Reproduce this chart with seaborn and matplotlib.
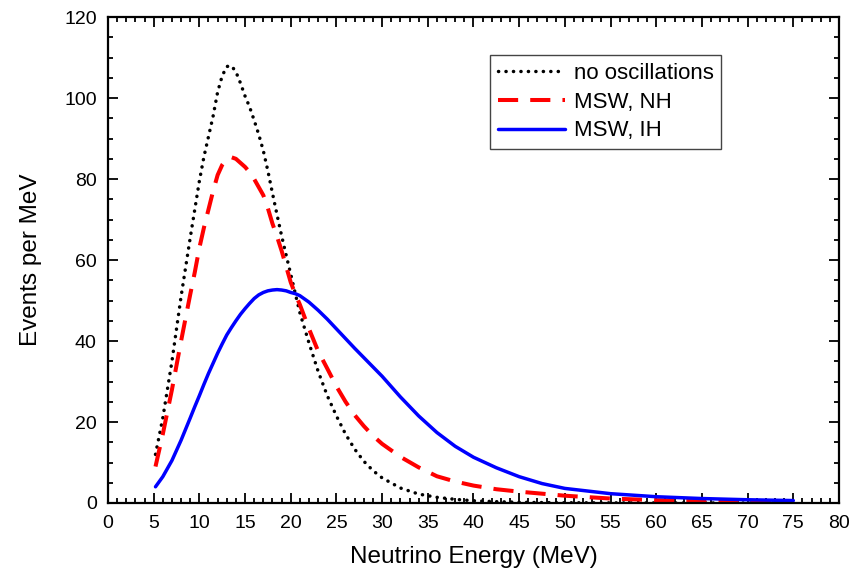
import numpy as np
import pandas as pd
import matplotlib
matplotlib.use("Agg")
import matplotlib.pyplot as plt
import seaborn as sns
from matplotlib.ticker import MultipleLocator

# ---- data ----
energy = [5.2, 6, 7, 8, 9, 9.5, 10, 10.5, 11, 11.5, 12, 12.5, 13, 13.5, 14, 14.5,
          15, 15.5, 16, 16.5, 17, 17.5, 18, 18.5, 19, 19.5, 20, 20.5, 21, 22, 23, 24,
          25, 26, 27, 28, 29, 30, 32, 34, 36, 38, 40, 42.5, 45, 47.5, 50, 55, 60, 65, 70, 75]
no_osc = [12, 21, 35, 51, 65.5, 72.5, 79.5, 85.5, 90.5, 95.5, 101.5, 105.5, 107.8, 108, 106.5, 103.7,
          100.5, 97.8, 94.5, 91, 87, 82, 76.5, 71.2, 66, 61.2, 56.5, 51.7, 47, 39.5, 32.5, 26.5,
          21.5, 17, 13.3, 10.3, 8, 6.2, 3.7, 2.2, 1.4, 0.9, 0.55, 0.32, 0.18, 0.1, 0.06, 0.03, 0.015, 0.01, 0.0, 0.0]
msw_nh = [9, 17, 28, 40, 51.5, 57, 63, 68, 72.5, 77, 81, 83.5, 85, 85.4, 85, 84,
          83, 81.7, 80, 78, 76, 72.8, 69, 65.8, 62.3, 58.4, 54.5, 51.6, 49, 43, 37.5, 33.2,
          28.8, 25, 21.7, 19, 16.6, 14.6, 11.4, 8.8, 6.6, 5.3, 4.3, 3.4, 2.8, 2.3, 1.8, 1.1, 0.7, 0.45, 0.3, 0.2]
msw_ih = [4, 6.5, 10.5, 15.5, 21, 23.8, 26.5, 29.3, 32, 34.5, 37, 39.3, 41.5, 43.3, 45, 46.6,
          48, 49.3, 50.5, 51.4, 52, 52.4, 52.6, 52.7, 52.6, 52.4, 52, 51.7, 51.2, 49.6, 47.6, 45.4,
          43, 40.6, 38.2, 35.9, 33.6, 31.3, 26.2, 21.5, 17.4, 14, 11.3, 8.7, 6.5, 4.8, 3.6, 2.3, 1.55, 1.1, 0.8, 0.6]
series_names = ["no oscillations", "MSW, NH", "MSW, IH"]
x_ticks = list(range(0, 81, 5))
y_ticks = list(range(0, 121, 20))

df = pd.DataFrame({
    "E": energy * 3,
    "v": no_osc + msw_nh + msw_ih,
    "s": [series_names[0]] * len(energy) + [series_names[1]] * len(energy) + [series_names[2]] * len(energy),
})

sns.set_style("ticks")
plt.rcParams["font.family"] = ["Liberation Sans", "DejaVu Sans"]
plt.rcParams["text.color"] = "black"
plt.rcParams["axes.labelcolor"] = "black"

fig = plt.figure(figsize=(8.68, 5.71), dpi=100)
ax = fig.add_axes([0.1244, 0.1191, 0.8422, 0.8509])

styles = {
    series_names[0]: dict(color="black", lw=2.5, dashes=(0.05, 2.1), cap="round"),
    series_names[1]: dict(color="#ff0000", lw=2.9, dashes=(5, 3), cap="butt"),
    series_names[2]: dict(color="#0000ff", lw=2.5, dashes=None, cap="butt"),
}
for name in series_names:
    st = styles[name]
    sub = df[df["s"] == name]
    sns.lineplot(data=sub, x="E", y="v", ax=ax, color=st["color"], lw=st["lw"],
                 label=name, sort=False, estimator=None)
    line = ax.get_lines()[-1]
    line.set_solid_joinstyle("round")
    line.set_dash_joinstyle("round")
    if st["dashes"] is not None:
        line.set_dashes(st["dashes"])
        line.set_dash_capstyle(st["cap"])

ax.set_xlim(0, 80)
ax.set_ylim(0, 120)
ax.set_xticks(x_ticks)
ax.set_yticks(y_ticks)
ax.xaxis.set_minor_locator(MultipleLocator(1))
ax.yaxis.set_minor_locator(MultipleLocator(5))
ax.tick_params(which="both", direction="in", top=True, right=True, width=1.3, colors="black",
               labelcolor="black")
ax.tick_params(which="major", length=7, labelsize=14)
ax.tick_params(axis="x", which="major", pad=9)
ax.tick_params(axis="y", which="major", pad=8)
ax.tick_params(which="minor", length=3.5)
for sp in ax.spines.values():
    sp.set_linewidth(1.6)
    sp.set_color("black")

ax.set_xlabel("Neutrino Energy (MeV)", fontsize=17.5, labelpad=10, color="black")
ax.set_ylabel("Events per MeV", fontsize=17.5, labelpad=16, color="black")

leg = ax.legend(loc="upper left", bbox_to_anchor=(0.523, 0.922), borderaxespad=0,
                fontsize=16, handlelength=3.0, handletextpad=0.4, labelspacing=0.35,
                borderpad=0.35, fancybox=False, framealpha=1, edgecolor="#444444")
leg.get_frame().set_linewidth(1.0)
for t in leg.get_texts():
    t.set_color("black")

fig.savefig("out.png", dpi=100)
